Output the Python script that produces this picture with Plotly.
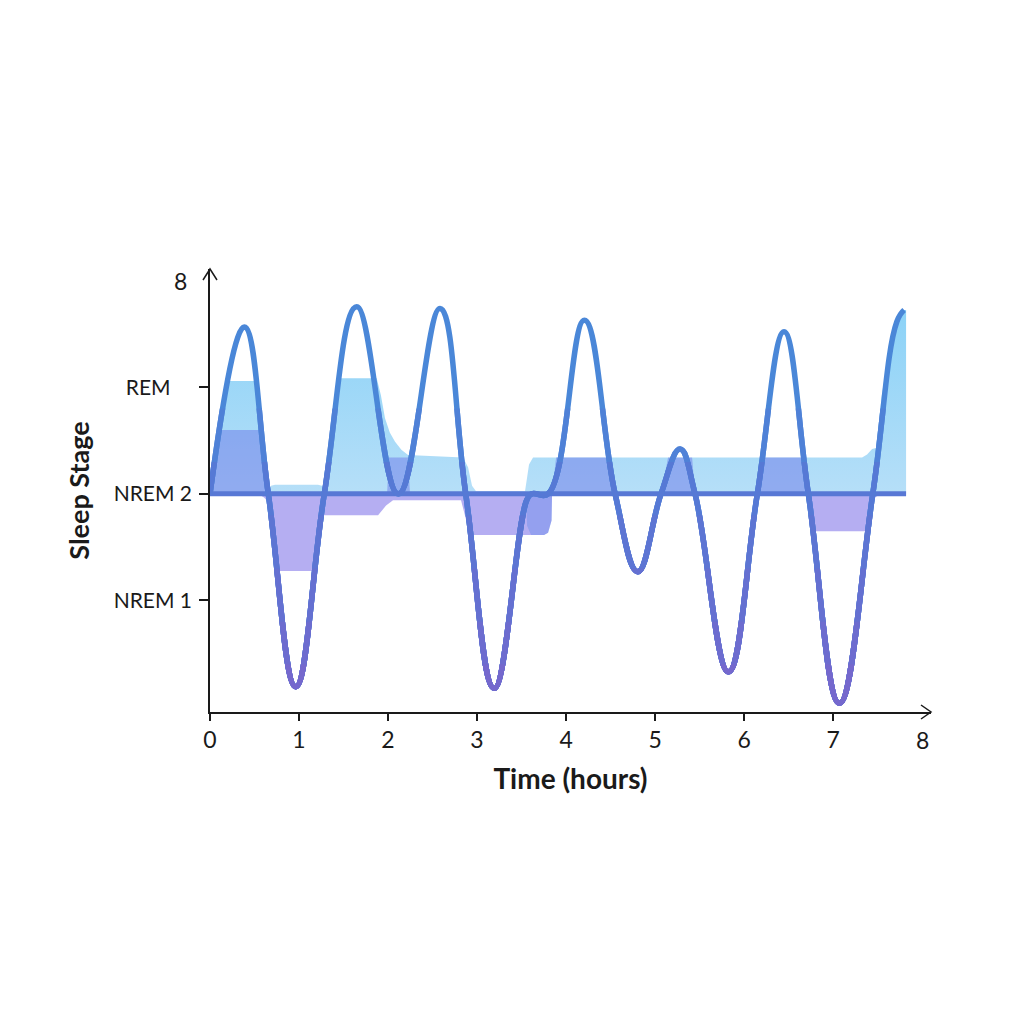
import plotly.graph_objects as go

# ---------------- data (hours, stage value: 0..8, NREM1=2, NREM2=4, REM=6) ----------------
curve_hours = [0.000, 0.385, 0.655, 0.963, 1.284, 1.648, 2.116, 2.584, 2.873, 3.194,
               3.558, 3.618, 3.798, 4.206, 4.551, 4.806, 5.067, 5.281, 5.449, 5.824,
               6.149, 6.449, 6.722, 7.071, 7.446, 7.716, 7.798]
curve_stage = [4.0, 7.13, 4.0, 0.38, 4.0, 7.51, 4.0, 7.48, 4.0, 0.35,
               3.88, 4.0, 4.0, 7.26, 4.0, 2.54, 4.0, 4.84, 4.0, 0.66,
               4.0, 7.04, 4.0, 0.07, 4.0, 7.23, 7.45]

baseline_hours = [0.0, 7.82]
baseline_stage = [4.0, 4.0]

# light-blue (above NREM 2) bands
rem1_hours = [0.0, 0.112, 0.202, 0.545, 0.596, 0.655]
rem1_stage = [4.0, 5.2, 6.12, 6.12, 5.2, 4.0]

strip_hours = [0.629, 0.685, 0.730, 1.213, 1.258, 1.303]
strip_stage = [4.0, 4.15, 4.17, 4.17, 4.15, 4.0]

main_hours = [1.284, 1.360, 1.442, 1.873, 1.920, 1.966, 2.020, 2.079, 2.150, 2.225, 2.843,
              2.899, 2.944, 2.989, 3.539, 3.562, 3.584, 3.629, 3.708, 7.326, 7.382, 7.438,
              7.483, 7.547, 7.640, 7.716, 7.798, 7.820, 7.820, 3.843, 3.837, 3.798, 3.753,
              3.607, 3.562, 3.551, 1.284]
main_stage = [4.0, 5.0, 6.17, 6.17, 5.85, 5.42, 5.15, 4.98, 4.83, 4.73, 4.68,
              4.5, 4.15, 4.05, 4.05, 4.3, 4.55, 4.68, 4.68, 4.68, 4.74, 4.84,
              4.86, 5.85, 6.79, 7.23, 7.45, 7.45, 4.0, 4.0, 3.5, 3.27, 3.23,
              3.23, 3.4, 4.0, 4.0]

# overlap (darker) bands above NREM 2
d1_hours = [0.0, 0.045, 0.112, 0.596, 0.629, 0.655]
d1_stage = [4.0, 4.6, 5.2, 5.2, 4.6, 4.0]

d2_hours = [1.989, 2.011, 2.225, 2.247]
d2_stage = [4.0, 4.68, 4.68, 4.0]

d3_hours = [3.843, 3.888, 4.483, 4.551]
d3_stage = [4.0, 4.68, 4.68, 4.0]

d4_hours = [5.067, 5.146, 5.416, 5.449]
d4_stage = [4.0, 4.68, 4.68, 4.0]

d5_hours = [6.149, 6.191, 6.680, 6.722]
d5_stage = [4.0, 4.68, 4.68, 4.0]

# purple bands below NREM 2
p1_hours = [0.539, 0.607, 0.652, 0.685, 0.738, 1.199, 1.236, 1.281, 1.326, 1.888, 1.978,
            2.056, 2.820, 2.865, 2.910, 2.966, 3.753, 3.798, 3.837, 3.843]
p1_stage = [4.0, 3.93, 3.85, 3.5, 2.55, 2.55, 3.3, 3.6, 3.6, 3.6, 3.78,
            3.88, 3.88, 3.6, 3.3, 3.23, 3.23, 3.27, 3.5, 4.0]

p2_hours = [6.722, 6.775, 7.379, 7.416, 7.449, 7.528]
p2_stage = [4.0, 3.3, 3.3, 3.6, 3.9, 4.0]

x_ticks = [0, 1, 2, 3, 4, 5, 6, 7]
x_tick_text = ["0", "1", "2", "3", "4", "5", "6", "7"]
y_ticks = [2, 4, 6]
y_tick_text = ["NREM 1", "NREM 2", "REM\u00a0\u00a0\u00a0\u00a0"]

# ---------------- styling ----------------
FONT = "Lato"
INK = "#1a1a1a"
X_MIN, X_MAX = 0.0, 8.1
Y_MIN, Y_MAX = -0.094, 8.22
BLUE_GRAD = dict(type="vertical", colorscale=[[0, "#b6dff8"], [1, "#8bd2f7"]], start=4.0, stop=7.5)
OVERLAP = "rgba(105,115,232,0.48)"
PURPLE = "rgba(120,108,232,0.55)"

fig = go.Figure()

for hx, hy in [(rem1_hours, rem1_stage), (strip_hours, strip_stage), (main_hours, main_stage)]:
    fig.add_trace(go.Scatter(x=hx, y=hy, mode="lines", fill="toself", line=dict(width=0),
                             fillcolor="#a8dbf8", fillgradient=BLUE_GRAD,
                             hoverinfo="skip", showlegend=False))

for hx, hy in [(d1_hours, d1_stage), (d2_hours, d2_stage), (d3_hours, d3_stage),
               (d4_hours, d4_stage), (d5_hours, d5_stage)]:
    fig.add_trace(go.Scatter(x=hx, y=hy, mode="lines", fill="toself", line=dict(width=0),
                             fillcolor=OVERLAP, hoverinfo="skip", showlegend=False))

for hx, hy in [(p1_hours, p1_stage), (p2_hours, p2_stage)]:
    fig.add_trace(go.Scatter(x=hx, y=hy, mode="lines", fill="toself", line=dict(width=0),
                             fillcolor=PURPLE, hoverinfo="skip", showlegend=False))

fig.add_trace(go.Scatter(x=baseline_hours, y=baseline_stage, mode="lines",
                         line=dict(color="#5878d5", width=5), showlegend=False))

# curve drawn in height bands (clipped sub-axes with identical scale) to mimic a vertical gradient
bands = [(Y_MAX, "#4a87d8"), (5.6, "#4f81d7"), (4.6, "#5679d5"), (3.6, "#5d75d3"),
         (2.6, "#6570d1"), (1.6, "#6d6ccf"), (0.8, "#7568cd")]
layout_axes = {}
for i, (top, col) in enumerate(bands):
    yname = "y" if i == 0 else f"y{i + 1}"
    fig.add_trace(go.Scatter(x=curve_hours, y=curve_stage, mode="lines", yaxis=yname,
                             line=dict(color=col, width=5.5, shape="spline", smoothing=1.2),
                             showlegend=False))
    if i > 0:
        frac = (top - Y_MIN) / (Y_MAX - Y_MIN)
        layout_axes[f"yaxis{i + 1}"] = dict(domain=[0, frac], range=[Y_MIN, top],
                                            anchor="x", visible=False, fixedrange=True)

fig.update_layout(
    width=1024, height=1024, autosize=False,
    margin=dict(l=210, r=93, t=269, b=312),
    paper_bgcolor="white", plot_bgcolor="rgba(0,0,0,0)",
    font=dict(family=FONT, color=INK),
    xaxis=dict(range=[X_MIN, X_MAX], showgrid=False, zeroline=False, showline=True,
               linecolor=INK, linewidth=1.5, ticks="outside", ticklen=7, tickwidth=1.5,
               tickcolor=INK, tickvals=x_ticks, ticktext=x_tick_text,
               tickfont=dict(size=23, family=FONT, color=INK), ticklabelstandoff=0,
               title=dict(text="<b>Time (hours)</b>", font=dict(size=28, family=FONT, color=INK),
                          standoff=17)),
    yaxis=dict(range=[Y_MIN, Y_MAX], showgrid=False, zeroline=False, showline=True,
               linecolor=INK, linewidth=1.5, ticks="outside", ticklen=9, tickwidth=1.5,
               tickcolor=INK, tickvals=y_ticks, ticktext=y_tick_text,
               tickfont=dict(size=21, family=FONT, color=INK), ticklabelstandoff=3,
               title=dict(text="<b>Sleep Stage</b>", font=dict(size=27, family=FONT, color=INK),
                          standoff=16)),
    **layout_axes,
)

# axis end labels "8"
fig.add_annotation(x=8, y=0, xref="x", yref="paper", text="8", showarrow=False,
                   yanchor="middle", yshift=-28, font=dict(size=23, family=FONT, color=INK))
fig.add_annotation(x=0, y=8, xref="paper", yref="y", text="8", showarrow=False,
                   xanchor="right", xshift=-21, font=dict(size=23, family=FONT, color=INK))

# arrow heads at axis ends
w_px, h_px = 1024 - 210 - 93, 1024 - 269 - 312
ax, ay = 10 / w_px, 7 / h_px
fig.add_shape(type="path", xref="paper", yref="paper",
              path=f"M {1 - ax} {ay} L 1 0 L {1 - ax} {-ay}",
              line=dict(color=INK, width=1.5))
bx, by = 7 / w_px, 11 / h_px
fig.add_shape(type="path", xref="paper", yref="paper",
              path=f"M {-bx} {1 - by} L 0 1 L {bx} {1 - by}",
              line=dict(color=INK, width=1.5))

fig.write_html("out.html")
